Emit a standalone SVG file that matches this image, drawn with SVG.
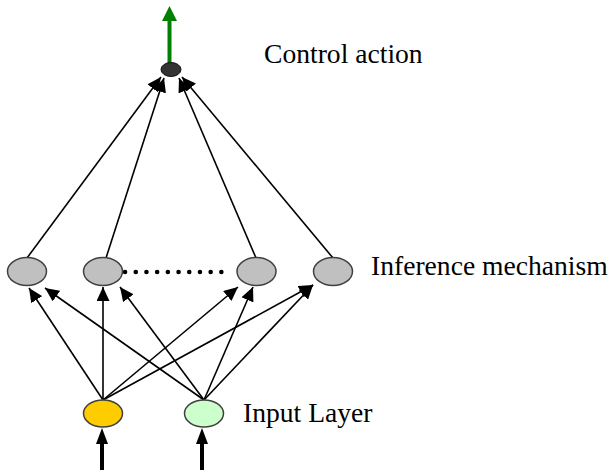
<svg xmlns="http://www.w3.org/2000/svg" width="614" height="470" viewBox="0 0 614 470">
<style>
.lbl{font-family:"Liberation Serif","Times New Roman",serif;font-size:27.6px;fill:#000}
.inf{fill:#c0c0c0;stroke:#404040;stroke-width:1.5}
.edge{stroke:#000;stroke-width:1.6;fill:none;marker-end:url(#ah)}
</style>
<defs>
<marker id="ah" markerUnits="userSpaceOnUse" markerWidth="15" markerHeight="13" refX="14" refY="6.5" orient="auto">
<path d="M0,0 L14,6.5 L0,13 Z" fill="#000"/>
</marker>
</defs>
<rect width="614" height="470" fill="#fff"/>
<g id="connectors">
<path class="edge" d="M27,258 L161,77"/>
<path class="edge" d="M106,258 L164,78"/>
<path class="edge" d="M256,258 L179,78"/>
<path class="edge" d="M333,258 L182,77"/>
<path class="edge" d="M103,400 L29,288"/>
<path class="edge" d="M103,400 L103,287"/>
<path class="edge" d="M103,400 L238,287"/>
<path class="edge" d="M103,400 L313,285"/>
<path class="edge" d="M204,400 L45,288"/>
<path class="edge" d="M204,400 L120,287"/>
<path class="edge" d="M204,400 L253,287"/>
<path class="edge" d="M204,400 L313,285"/>
<line x1="125" y1="272" x2="232" y2="272" stroke="#000" stroke-width="4.5" stroke-linecap="round" stroke-dasharray="0.1 10.6"/>
<g id="out-arrow">
<line x1="169.5" y1="63" x2="169.5" y2="19" stroke="#008000" stroke-width="4"/>
<polygon points="169.5,6 177,21 162,21" fill="#008000"/>
</g>
<g id="in-arrows">
<line x1="102" y1="470" x2="102" y2="442" stroke="#000" stroke-width="4"/>
<polygon points="102,428 108,444 96,444" fill="#000"/>
<line x1="202" y1="470" x2="202" y2="442" stroke="#000" stroke-width="4"/>
<polygon points="202,428 208,444 196,444" fill="#000"/>
</g>
</g>
<g id="output"><ellipse cx="171" cy="69.5" rx="10" ry="7" fill="#333" stroke="#111" stroke-width="1"/></g>
<g id="inf1"><ellipse class="inf" cx="27" cy="271.5" rx="19.5" ry="14"/></g>
<g id="inf2"><ellipse class="inf" cx="103" cy="271.5" rx="19.5" ry="14"/></g>
<g id="inf3"><ellipse class="inf" cx="256.5" cy="271.5" rx="19.5" ry="14"/></g>
<g id="inf4"><ellipse class="inf" cx="333" cy="271.5" rx="19.5" ry="14"/></g>
<g id="in1"><ellipse cx="103" cy="413.5" rx="19.5" ry="13.5" fill="#ffcc00" stroke="#404040" stroke-width="1.5"/></g>
<g id="in2"><ellipse cx="204" cy="413.5" rx="19.5" ry="13.5" fill="#ccffcc" stroke="#404040" stroke-width="1.5"/></g>
<g id="labels">
<text class="lbl" x="264" y="63">Control action</text>
<text class="lbl" x="371" y="275">Inference mechanism</text>
<text class="lbl" x="243" y="422">Input Layer</text>
</g>
</svg>
